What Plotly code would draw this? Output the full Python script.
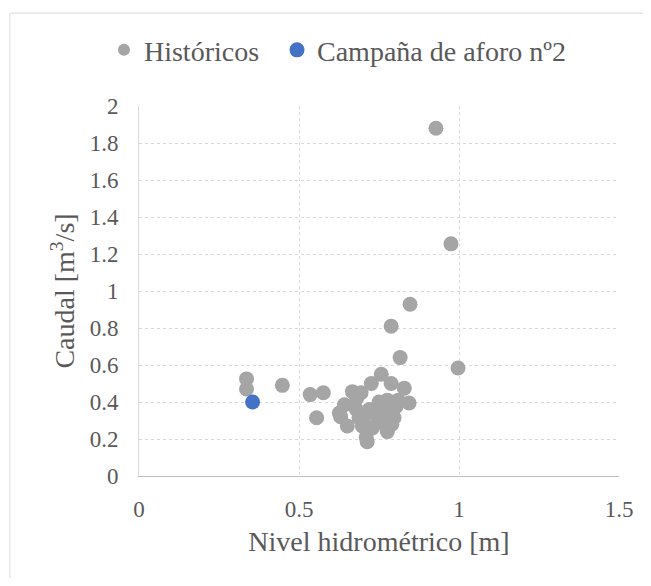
import plotly.graph_objects as go

hist_x = [0.928, 0.975, 0.847, 0.788, 0.997, 0.816,
          0.336, 0.336, 0.448, 0.535, 0.576, 0.555,
          0.630, 0.642, 0.626, 0.651, 0.667, 0.694, 0.688,
          0.710, 0.713, 0.726, 0.757, 0.788, 0.829, 0.844,
          0.776, 0.750, 0.720, 0.750, 0.776, 0.803, 0.797,
          0.688, 0.679, 0.740, 0.698, 0.729, 0.760, 0.810,
          0.680, 0.700, 0.770, 0.790]
hist_y = [1.880, 1.255, 0.928, 0.810, 0.584, 0.640,
          0.525, 0.470, 0.490, 0.440, 0.450, 0.315,
          0.320, 0.385, 0.340, 0.270, 0.456, 0.450, 0.315,
          0.210, 0.185, 0.500, 0.550, 0.500, 0.475, 0.395,
          0.240, 0.290, 0.360, 0.400, 0.410, 0.375, 0.315,
          0.315, 0.360, 0.330, 0.270, 0.260, 0.305, 0.410,
          0.420, 0.300, 0.350, 0.280]

camp_x = [0.355]
camp_y = [0.400]

font = "Liberation Serif"
txt = "#595959"

fig = go.Figure()
fig.add_trace(go.Scatter(x=hist_x, y=hist_y, mode="markers", name="Históricos",
                         marker=dict(color="#a5a5a5", size=15), legend="legend"))
fig.add_trace(go.Scatter(x=camp_x, y=camp_y, mode="markers", name="Campaña de aforo nº2",
                         marker=dict(color="#4472c4", size=15), legend="legend2"))

leg_common = dict(orientation="h", y=1.151, yanchor="middle", xanchor="left",
                  font=dict(size=28, color=txt, family=font), bgcolor="rgba(0,0,0,0)")

fig.update_layout(
    width=635, height=570,
    margin=dict(l=131, r=24, t=98, b=102, autoexpand=False),
    paper_bgcolor="white", plot_bgcolor="white",
    font=dict(family=font, size=23, color=txt),
    showlegend=True,
    legend=dict(x=-0.073, itemsizing="constant", **leg_common),
    legend2=dict(x=0.2875, itemsizing="trace", **leg_common),
    xaxis=dict(range=[0, 1.5], tickvals=[0, 0.5, 1, 1.5], ticktext=["0", "0.5", "1", "1.5"],
               showgrid=True, gridcolor="#d9d9d9", griddash="dot", gridwidth=1,
               showline=True, linecolor="#bfbfbf", linewidth=1, zeroline=False,
               ticks="", ticklabelstandoff=12,
               title=dict(text="Nivel hidrométrico [m]", font=dict(size=28, color=txt), standoff=10)),
    yaxis=dict(range=[0, 2], dtick=0.2, tickformat="~g",
               showgrid=True, gridcolor="#d9d9d9", griddash="dot", gridwidth=1,
               showline=True, linecolor="#d9d9d9", linewidth=1, zeroline=False,
               ticks="", ticklabelstandoff=15,
               title=dict(text="Caudal [m<sup>3</sup>/s]", font=dict(size=28, color=txt), standoff=6)),
    shapes=[dict(type="rect", xref="paper", yref="paper",
                 x0=-0.269, x1=1.5, y0=-1.0, y1=1.251,
                 line=dict(color="#d9d9d9", width=1), fillcolor="rgba(0,0,0,0)", layer="below")],
)

fig.write_html("out.html")
